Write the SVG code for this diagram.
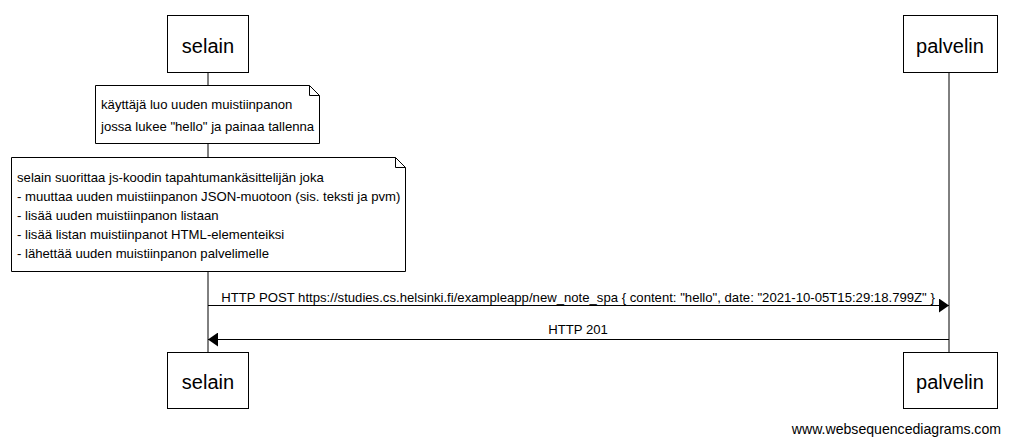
<svg xmlns="http://www.w3.org/2000/svg" width="1011" height="443" viewBox="0 0 1011 443">
<defs>
<style>
.box{fill:#fff;stroke:#000;stroke-width:1}
.life{stroke:#000;stroke-width:1}
.actor{font-family:"Liberation Sans",Arial,sans-serif;font-size:20px;fill:#000;text-anchor:middle}
.t{font-family:"Liberation Sans",Arial,sans-serif;font-size:13.15px;fill:#000}
.msg{stroke:#000;stroke-width:1;fill:none}
</style>
<marker id="ah" markerWidth="10" markerHeight="14" refX="10" refY="7" orient="auto" markerUnits="userSpaceOnUse">
<path d="M0,0 L10,7 L0,14 z" fill="#000"/>
</marker>
</defs>
<rect width="1011" height="443" fill="#fff"/>
<g id="lifelines">
<line class="life" x1="208" y1="72" x2="208" y2="352"/>
<line class="life" x1="949" y1="72" x2="949" y2="352"/>
</g>
<g id="selain-top"><rect class="box" x="167.5" y="15.5" width="81" height="57"/><text class="actor" x="208" y="53">selain</text></g>
<g id="palvelin-top"><rect class="box" x="903.5" y="15.5" width="94" height="57"/><text class="actor" x="950" y="53">palvelin</text></g>
<g id="note1">
<path class="box" d="M95.5,85.5 H309.5 L319.5,95.5 V143.5 H95.5 Z"/>
<path class="msg" d="M309.5,85.5 V95.5 H319.5"/>
<text class="t" x="101" y="109">käyttäjä luo uuden muistiinpanon</text>
<text class="t" x="101" y="131">jossa lukee "hello" ja painaa tallenna</text>
</g>
<g id="note2">
<path class="box" d="M11.5,157.5 H395.5 L405.5,167.5 V271.5 H11.5 Z"/>
<path class="msg" d="M395.5,157.5 V167.5 H405.5"/>
<text class="t" x="17" y="182">selain suorittaa js-koodin tapahtumankäsittelijän joka</text>
<text class="t" x="17" y="201">- muuttaa uuden muistiinpanon JSON-muotoon (sis. teksti ja pvm)</text>
<text class="t" x="17" y="220">- lisää uuden muistiinpanon listaan</text>
<text class="t" x="17" y="239">- lisää listan muistiinpanot HTML-elementeiksi</text>
<text class="t" x="17" y="258">- lähettää uuden muistiinpanon palvelimelle</text>
</g>
<g id="connectors">
<line class="msg" x1="208" y1="305.5" x2="949" y2="305.5" marker-end="url(#ah)"/>
<text class="t" x="578" y="302" text-anchor="middle">HTTP POST https://studies.cs.helsinki.fi/exampleapp/new_note_spa { content: "hello", date: "2021-10-05T15:29:18.799Z" }</text>
<line class="msg" x1="949" y1="339.5" x2="208" y2="339.5" marker-end="url(#ah)"/>
<text class="t" x="578" y="334" text-anchor="middle">HTTP 201</text>
</g>
<g id="selain-bottom"><rect class="box" x="167.5" y="352.5" width="81" height="56"/><text class="actor" x="208" y="389">selain</text></g>
<g id="palvelin-bottom"><rect class="box" x="903.5" y="352.5" width="94" height="56"/><text class="actor" x="950" y="389">palvelin</text></g>
<text x="1001" y="434" font-family="Liberation Sans, Arial, sans-serif" font-size="14.1" text-anchor="end">www.websequencediagrams.com</text>
</svg>
